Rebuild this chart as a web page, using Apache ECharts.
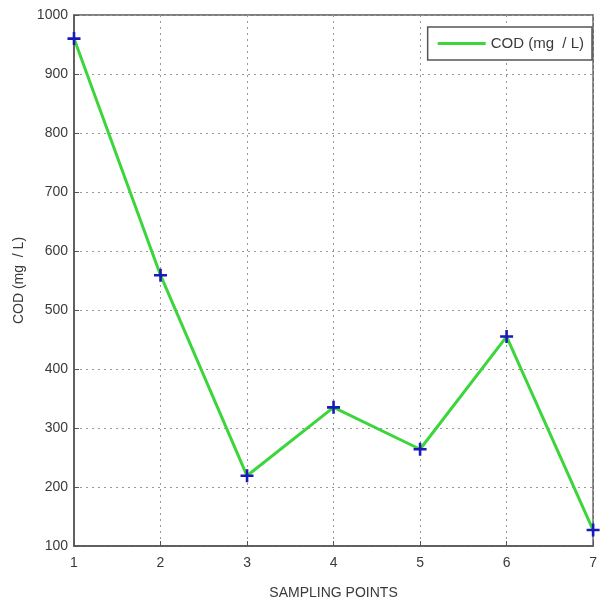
<!DOCTYPE html>
<html>
<head>
<meta charset="utf-8">
<script src="https://cdn.jsdelivr.net/npm/echarts@6/dist/echarts.min.js"></script>
<style>
  html, body { margin: 0; padding: 0; background: #fff; }
  #chart { width: 600px; height: 605px; }
</style>
</head>
<body>
<div id="chart"></div>
<script>
var points = [1, 2, 3, 4, 5, 6, 7];
var codValues = [960, 559, 219, 335, 264, 455, 127];
var seriesName = 'COD (mg  / L)';

var data = [];
for (var i = 0; i < points.length; i++) {
    data.push([points[i], codValues[i]]);
}

var myChart = echarts.init(document.getElementById('chart'));
var txt = { color: '#3a3a3a', fontFamily: 'Liberation Sans, Arial', fontSize: 14 };

var option = {
    backgroundColor: '#fff',
    animation: false,
    grid: {
        left: 74, right: 3, top: 15, bottom: 59,
        show: true,
        borderColor: '#555',
        borderWidth: 1.5
    },
    legend: {
        right: 8, top: 27,
        data: [seriesName],
        icon: 'rect',
        itemWidth: 48,
        itemHeight: 3,
        itemGap: 10,
        padding: [9, 8, 9, 10],
        borderColor: '#555',
        borderWidth: 1.5,
        backgroundColor: '#fff',
        itemStyle: { color: '#3cd63c' },
        textStyle: { color: '#3a3a3a', fontFamily: 'Liberation Sans, Arial', fontSize: 15 }
    },
    xAxis: {
        type: 'value',
        min: 1, max: 7, interval: 1,
        name: 'SAMPLING POINTS',
        nameLocation: 'middle',
        nameGap: 40,
        nameTextStyle: txt,
        axisLine: { show: true, lineStyle: { color: '#555', width: 1.5 } },
        axisTick: { show: true, inside: true, length: 5, lineStyle: { color: '#555' } },
        axisLabel: Object.assign({ margin: 10 }, txt),
        splitLine: { show: true, lineStyle: { color: '#999', type: [2, 4], width: 1 } }
    },
    yAxis: {
        type: 'value',
        min: 100, max: 1000, interval: 100,
        name: seriesName,
        nameLocation: 'middle',
        nameGap: 48,
        nameRotate: 90,
        nameTextStyle: txt,
        axisLine: { show: true, lineStyle: { color: '#555', width: 1.5 } },
        axisTick: { show: true, inside: true, length: 5, lineStyle: { color: '#555' } },
        axisLabel: Object.assign({ margin: 6, formatter: function (v) { return String(v); } }, txt),
        splitLine: { show: true, lineStyle: { color: '#999', type: [2, 4], width: 1 } }
    },
    series: [{
        name: seriesName,
        type: 'line',
        data: data,
        symbol: 'path://M4,0H6V4H10V6H6V10H4V6H0V4H4Z',
        symbolSize: 13,
        showAllSymbol: true,
        lineStyle: { color: '#3cd63c', width: 3 },
        itemStyle: { color: '#1a1ab8' },
        z: 3
    }]
};

myChart.setOption(option);
window.addEventListener('resize', function () {
    myChart.resize();
});
</script>
</body>
</html>
